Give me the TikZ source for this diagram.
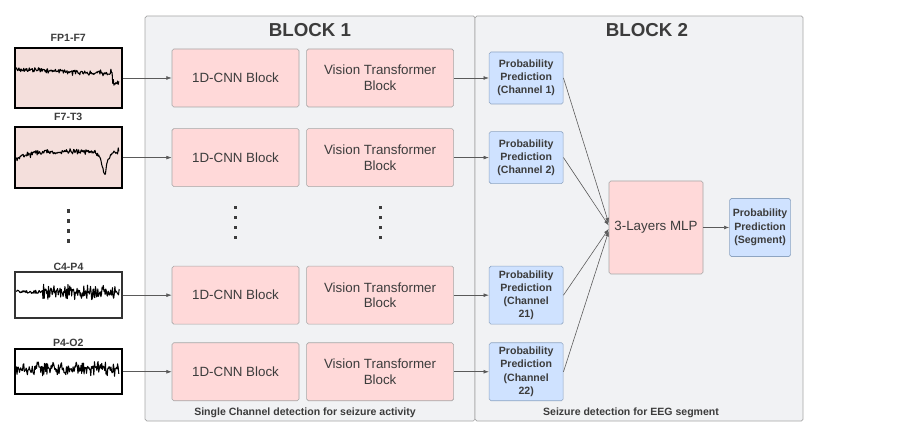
\documentclass[tikz,border=0pt]{standalone}
\usepackage{fontspec}
\setmainfont{Liberation Sans}
\usetikzlibrary{positioning,arrows.meta}
\definecolor{panelfill}{HTML}{F1F2F4}
\definecolor{panelline}{HTML}{A6A6A6}
\definecolor{pinkfill}{HTML}{FFD9D9}
\definecolor{bluefill}{HTML}{CFE2FF}
\definecolor{blueline}{HTML}{8EA5C2}
\definecolor{sigfill}{HTML}{F4DFDC}
\definecolor{inktext}{HTML}{3C3C3C}
\definecolor{arrowgray}{HTML}{5A5A5A}

\begin{document}
\begin{tikzpicture}[
	panel/.style={draw=panelline, fill=panelfill, rounded corners=1.5pt, minimum height=12.15cm, line width=0.6pt, outer sep=0pt},
	blk/.style={draw=panelline, fill=pinkfill, rounded corners=1.5pt, minimum height=1.74cm, text=inktext, font=\fontsize{11.4}{13.4}\selectfont, align=center, line width=0.5pt},
	prob/.style={draw=blueline, fill=bluefill, rounded corners=1.5pt, minimum width=2.22cm, text=inktext, font=\fontsize{9}{11.3}\selectfont\bfseries, align=center, inner sep=1pt, line width=0.5pt},
	sig/.style={draw=black, line width=1.6pt, minimum width=3.21cm, fill=sigfill},
	chan/.style={text=inktext, font=\fontsize{9}{11}\selectfont\bfseries, inner sep=0pt},
	title/.style={text=inktext, font=\fontsize{16}{19}\selectfont\bfseries, inner sep=0pt},
	note/.style={text=inktext, font=\fontsize{9}{11}\selectfont\bfseries, inner sep=0pt},
	arr/.style={draw=arrowgray, line width=0.5pt, -{Latex[length=4.5pt,width=3.2pt]}},
	trace/.style={line width=0.9pt, line join=round},
	dotmark/.style={fill=inktext}
]
	\useasboundingbox (0,0) rectangle (27.63,-13.29);
	\node[panel, minimum width=9.9cm] (blk1) at (9.3,-6.555) {};
	\node[panel, minimum width=9.84cm, right=0cm of blk1] (blk2) {};
	
	\node[title, below=0.21cm of blk1.north] (t1) {BLOCK 1};
	\node[title, below=0.21cm of blk2.north, xshift=0.24cm] (t2) {BLOCK 2};
	\node[note, above=0.1cm of blk1.south, xshift=-0.15cm] (n1) {Single Channel detection for seizure activity};
	\node[note, above=0.1cm of blk2.south, xshift=-0.24cm] (n2) {Seizure detection for EEG segment};
	
	\node[blk, minimum width=3.81cm] (cnn1) at (7.065,-2.34) {1D-CNN Block};
	\node[blk, minimum width=3.81cm, below=0.63cm of cnn1] (cnn2) {1D-CNN Block};
	\node[blk, minimum width=3.81cm, below=2.37cm of cnn2] (cnn3) {1D-CNN Block};
	\node[blk, minimum width=3.81cm, below=0.54cm of cnn3] (cnn4) {1D-CNN Block};
	
	\node[blk, minimum width=4.41cm, right=0.21cm of cnn1] (vit1) {Vision Transformer\\Block};
	\node[blk, minimum width=4.41cm, right=0.21cm of cnn2] (vit2) {Vision Transformer\\Block};
	\node[blk, minimum width=4.41cm, right=0.21cm of cnn3] (vit3) {Vision Transformer\\Block};
	\node[blk, minimum width=4.41cm, right=0.21cm of cnn4] (vit4) {Vision Transformer\\Block};
	
	\node[prob, minimum height=1.56cm, right=1.05cm of vit1] (prob1) {Probability\\Prediction\\(Channel 1)};
	\node[prob, minimum height=1.56cm, right=1.05cm of vit2] (prob2) {Probability\\Prediction\\(Channel 2)};
	\node[prob, minimum height=1.74cm, right=1.05cm of vit3] (prob3) {Probability\\Prediction\\(Channel\\21)};
	\node[prob, minimum height=1.74cm, right=1.05cm of vit4] (prob4) {Probability\\Prediction\\(Channel\\22)};
	
	\node[blk, minimum width=2.82cm, minimum height=2.79cm] (mlp) at (19.68,-6.825) {3-Layers MLP};
	\node[prob, minimum width=1.83cm, minimum height=1.74cm, right=0.78cm of mlp] (out) {Probability\\Prediction\\(Segment)};
	
	\node[sig, minimum height=1.8cm, left=1.47cm of cnn1] (sig1) {};
	\node[sig, minimum height=1.83cm, left=1.47cm of cnn2] (sig2) {};
	\node[sig, draw=black!80, line width=1.3pt, minimum height=1.38cm, fill=white, left=1.47cm of cnn3] (sig3) {};
	\node[sig, minimum height=1.35cm, fill=white, left=1.47cm of cnn4] (sig4) {};
	
	\node[chan, above=0.15cm of sig1] (lab1) {FP1-F7};
	\node[chan, above=0.15cm of sig2] (lab2) {F7-T3};
	\node[chan, above=0.03cm of sig3] (lab3) {C4-P4};
	\node[chan, above=0.03cm of sig4] (lab4) {P4-O2};
	
	\pgfmathsetseed{42}
	\draw[trace, shift={(sig1.west)}] plot[domain=0.06:3.15, samples=170] (\x, {0.27-0.05*\x+0.05*rand+0.03*rand+0.1*(rand>0.8)*rand-0.28*(\x>2.95)});
	\draw[trace, shift={(sig2.west)}] plot[domain=0.06:3.15, samples=170] (\x, {0.2-0.25/(1+(\x/0.35)*(\x/0.35))-0.72/(1+((\x-2.72)/0.08)*((\x-2.72)/0.08))+0.05*rand+0.03*rand+0.1*(rand>0.8)*rand});
	\draw[trace, shift={(sig3.west)}] plot[domain=0.06:3.15, samples=170] (\x, {0.1+(0.05+0.13*(\x>0.85))*rand+0.1*(\x>0.85)*rand});
	\draw[trace, shift={(sig4.west)}] plot[domain=0.06:3.15, samples=170] (\x, {0.1+0.14*rand+0.11*rand});
	
	\draw[arr] (sig1) -- (cnn1);
	\draw[arr] (sig2) -- (cnn2);
	\draw[arr] (sig3) -- (cnn3);
	\draw[arr] (sig4) -- (cnn4);
	\draw[arr] (vit1) -- (prob1);
	\draw[arr] (vit2) -- (prob2);
	\draw[arr] (vit3) -- (prob3);
	\draw[arr] (vit4) -- (prob4);
	\draw[arr] (prob1.east) -- ([yshift=0.13cm]mlp.west);
	\draw[arr] (prob2.east) -- ([yshift=0.06cm]mlp.west);
	\draw[arr] (prob3.east) -- ([yshift=-0.04cm]mlp.west);
	\draw[arr] (prob4.east) -- ([yshift=-0.11cm]mlp.west);
	\draw[arr] (mlp) -- (out);
	
	\path (sig2) -- (sig3) coordinate[midway] (m0);
	\path (cnn2) -- (cnn3) coordinate[midway] (m1);
	\path (vit2) -- (vit3) coordinate[midway] (m2);
	\foreach \y in {0.58,0.28,-0.02,-0.32} {
		\fill[dotmark] ([yshift=\y cm]m0) ++(-0.055,-0.055) rectangle ++(0.11,0.11);
		\fill[dotmark] ([yshift=\y cm]m1) ++(-0.045,-0.045) rectangle ++(0.09,0.09);
		\fill[dotmark] ([yshift=\y cm]m2) ++(-0.045,-0.045) rectangle ++(0.09,0.09);
	}
\end{tikzpicture}
\end{document}
